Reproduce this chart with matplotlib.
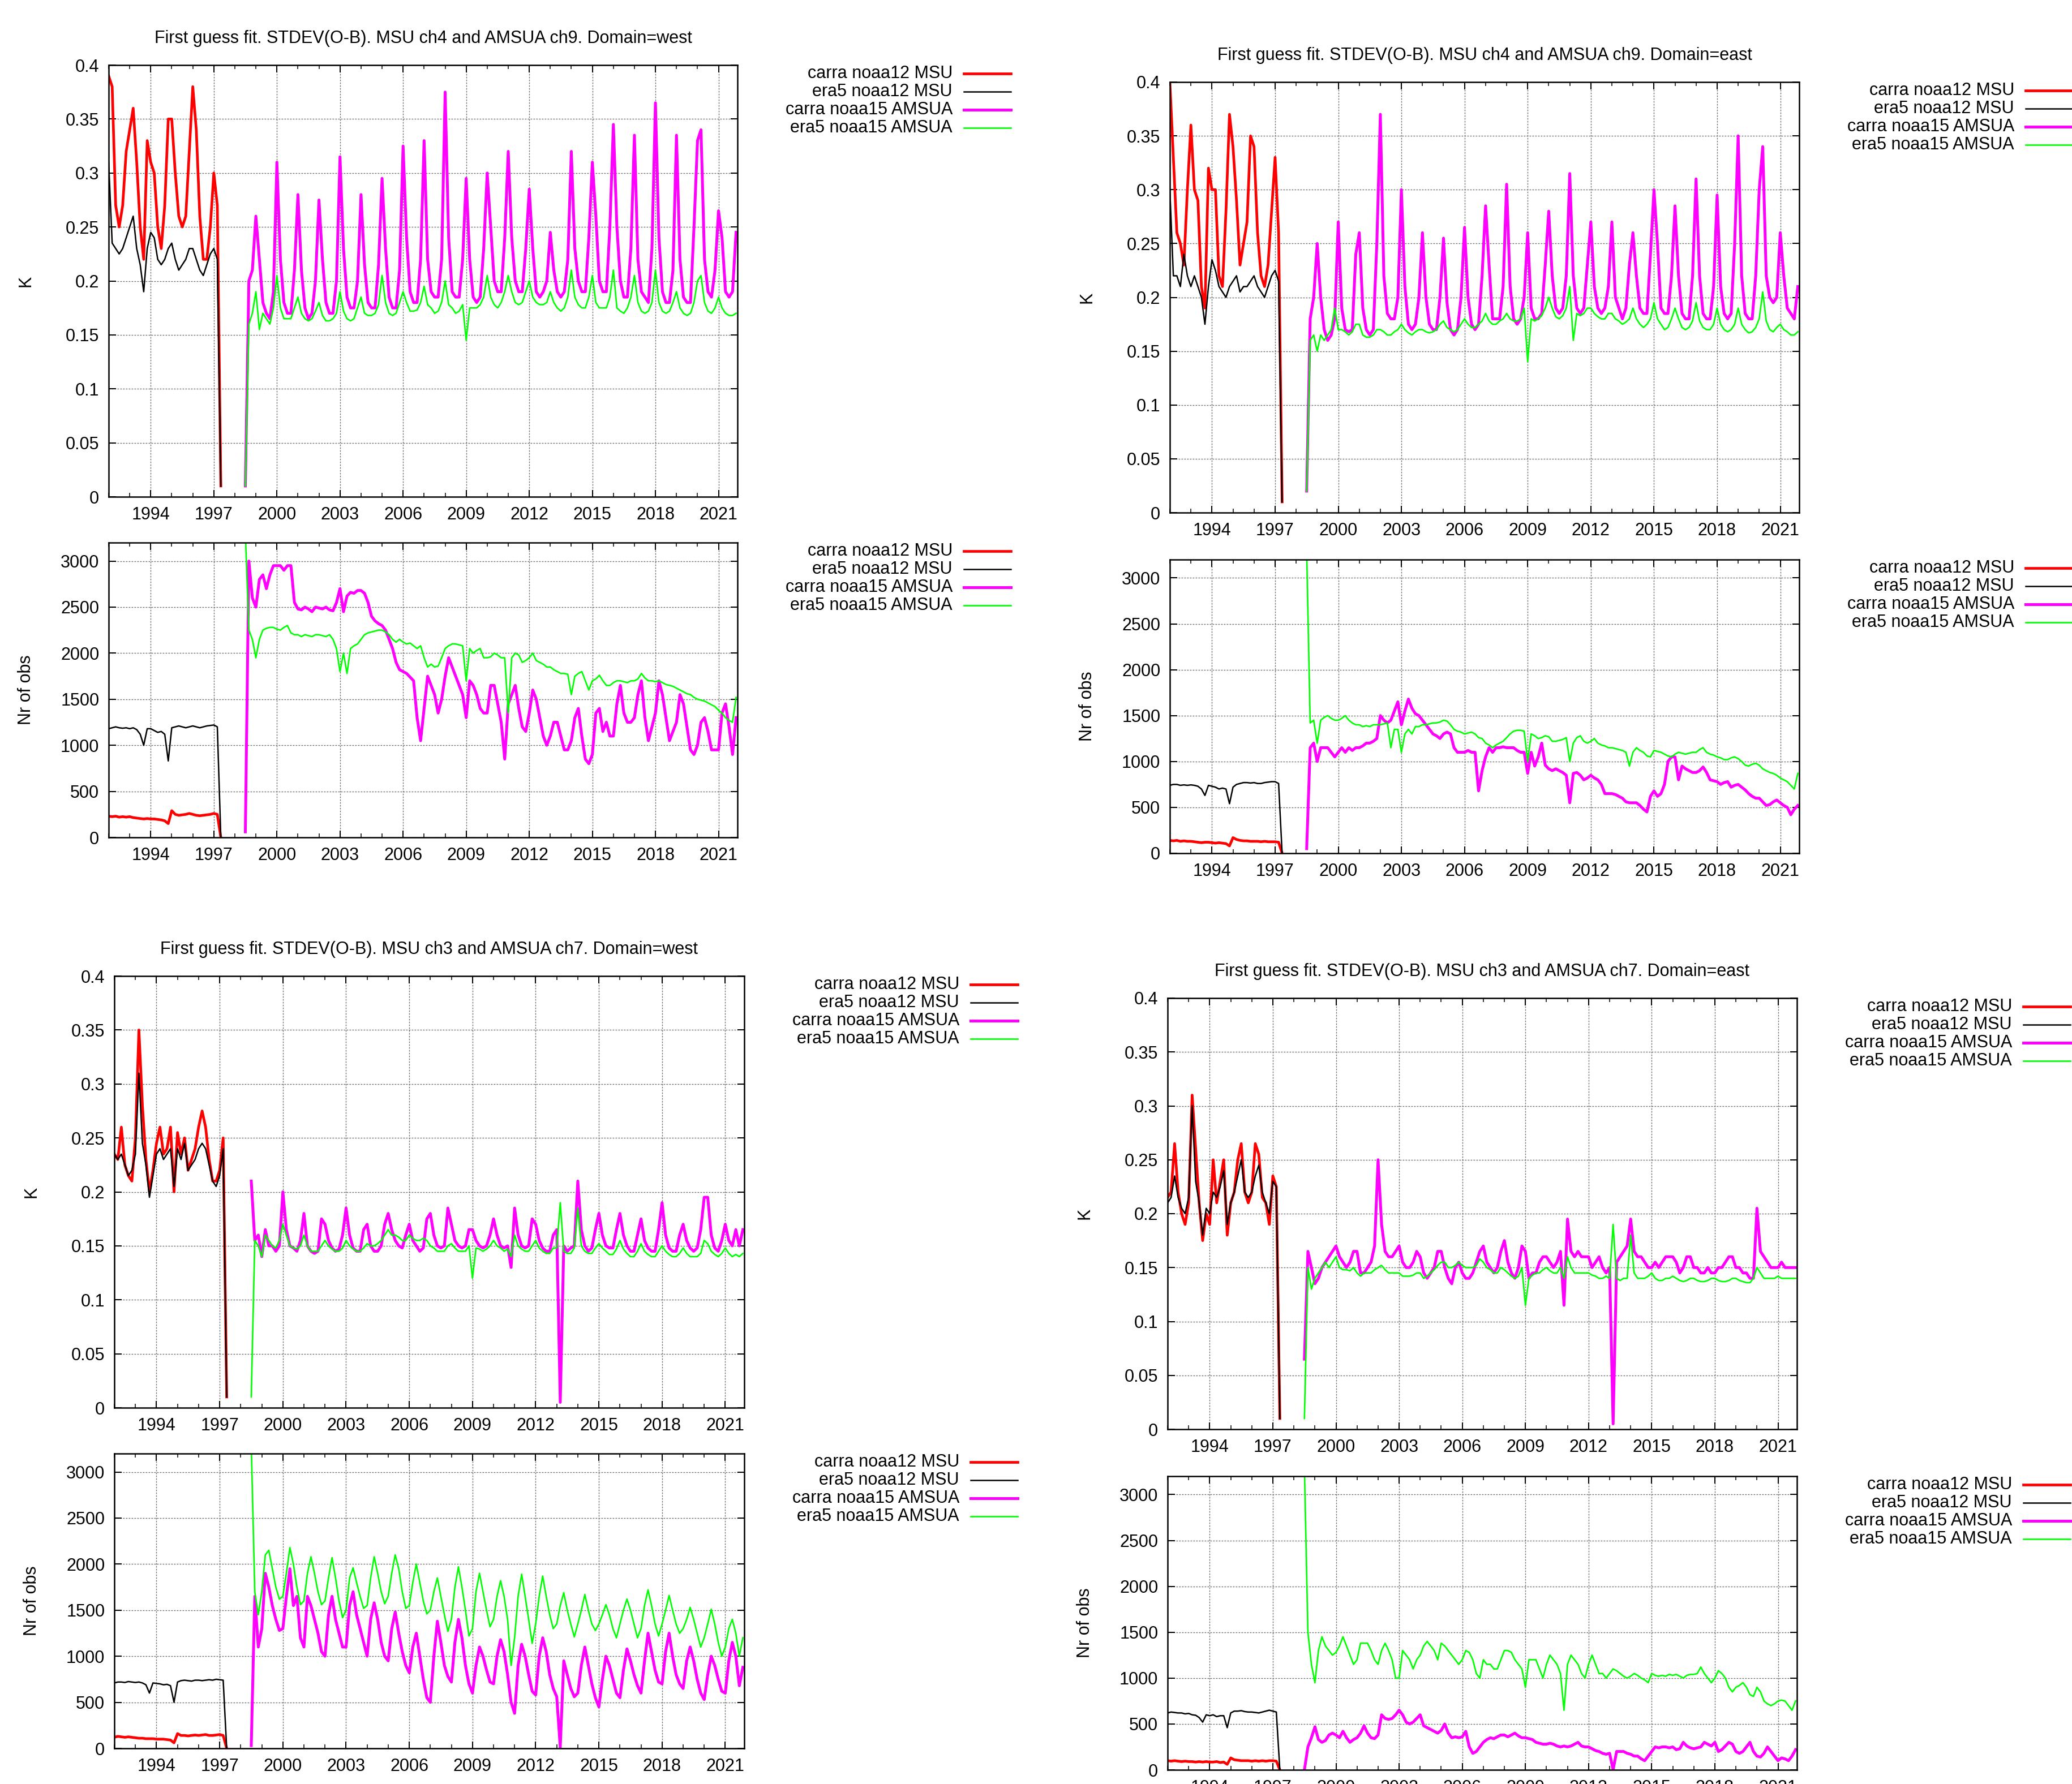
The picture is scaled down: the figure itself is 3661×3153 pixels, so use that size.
import numpy as np
import matplotlib
matplotlib.use("Agg")
import matplotlib.pyplot as plt
from matplotlib.lines import Line2D
from matplotlib.ticker import MultipleLocator, FixedLocator, FixedFormatter

plt.rcParams['font.family'] = ['Liberation Sans', 'DejaVu Sans']

W, H = 3662, 3153

# two-monthly samples, decimal years
msu_start = 1992.0
amsua_start = 1998.5
step = 1.0 / 6.0

labels = ['carra noaa12 MSU', 'era5 noaa12 MSU', 'carra noaa15 AMSUA', 'era5 noaa15 AMSUA']
colors = ['#ff0000', '#000000', '#ff00ff', '#00ff00']
widths = [3.4, 1.8, 3.6, 1.9]

titles = [
    'First guess fit. STDEV(O-B). MSU ch4 and AMSUA ch9. Domain=west',
    'First guess fit. STDEV(O-B). MSU ch4 and AMSUA ch9. Domain=east',
    'First guess fit. STDEV(O-B). MSU ch3 and AMSUA ch7. Domain=west',
    'First guess fit. STDEV(O-B). MSU ch3 and AMSUA ch7. Domain=east',
]

sd_ticks = [0, 0.05, 0.1, 0.15, 0.2, 0.25, 0.3, 0.35, 0.4]
sd_ticklabels = ['0', '0.05', '0.1', '0.15', '0.2', '0.25', '0.3', '0.35', '0.4']
nr_ticks = [0, 500, 1000, 1500, 2000, 2500, 3000]
year_ticks = [1994, 1997, 2000, 2003, 2006, 2009, 2012, 2015, 2018, 2021]

# ---------------- MSU ch4 / AMSUA ch9, west ----------------
w9_sd_carra12 = [
    0.39, 0.38, 0.27, 0.25, 0.27, 0.32,
    0.34, 0.36, 0.31, 0.25, 0.22, 0.33,
    0.31, 0.30, 0.25, 0.23, 0.27, 0.35,
    0.35, 0.30, 0.26, 0.25, 0.26, 0.32,
    0.38, 0.34, 0.26, 0.22, 0.22, 0.25,
    0.30, 0.27, 0.01]
w9_sd_era12 = [
    0.31, 0.235, 0.23, 0.225, 0.23, 0.24,
    0.25, 0.26, 0.23, 0.215, 0.19, 0.23,
    0.245, 0.24, 0.22, 0.215, 0.22, 0.23,
    0.235, 0.22, 0.21, 0.215, 0.22, 0.23,
    0.23, 0.22, 0.21, 0.205, 0.215, 0.225,
    0.23, 0.22, 0.01]
w9_sd_carra15 = [
    0.01, 0.20, 0.21,
    0.26, 0.22, 0.18, 0.17, 0.165, 0.19,
    0.31, 0.22, 0.18, 0.17, 0.17, 0.21,
    0.28, 0.21, 0.175, 0.165, 0.17, 0.20,
    0.275, 0.22, 0.18, 0.17, 0.17, 0.20,
    0.315, 0.23, 0.185, 0.175, 0.175, 0.20,
    0.28, 0.215, 0.18, 0.175, 0.175, 0.215,
    0.295, 0.23, 0.185, 0.175, 0.175, 0.21,
    0.325, 0.24, 0.19, 0.18, 0.18, 0.22,
    0.33, 0.22, 0.19, 0.185, 0.185, 0.22,
    0.375, 0.24, 0.19, 0.185, 0.185, 0.22,
    0.295, 0.22, 0.185, 0.18, 0.185, 0.23,
    0.30, 0.25, 0.20, 0.19, 0.19, 0.24,
    0.32, 0.24, 0.20, 0.19, 0.19, 0.23,
    0.285, 0.23, 0.19, 0.185, 0.19, 0.20,
    0.245, 0.21, 0.19, 0.185, 0.19, 0.22,
    0.32, 0.23, 0.20, 0.19, 0.19, 0.24,
    0.31, 0.26, 0.20, 0.19, 0.19, 0.25,
    0.345, 0.25, 0.20, 0.185, 0.185, 0.23,
    0.335, 0.22, 0.19, 0.185, 0.18, 0.23,
    0.365, 0.24, 0.19, 0.18, 0.18, 0.21,
    0.335, 0.22, 0.185, 0.18, 0.18, 0.25,
    0.33, 0.34, 0.22, 0.19, 0.185, 0.21,
    0.265, 0.24, 0.19, 0.185, 0.19, 0.245]
w9_sd_era15 = [
    0.01, 0.16, 0.17,
    0.19, 0.155, 0.17, 0.165, 0.16, 0.175,
    0.205, 0.175, 0.165, 0.165, 0.165, 0.175,
    0.185, 0.17, 0.165, 0.163, 0.165, 0.172,
    0.18, 0.168, 0.163, 0.163, 0.165, 0.17,
    0.19, 0.172, 0.165, 0.163, 0.165, 0.175,
    0.185, 0.17, 0.168, 0.168, 0.17, 0.178,
    0.205, 0.18, 0.17, 0.168, 0.17, 0.18,
    0.19, 0.18, 0.172, 0.172, 0.173, 0.18,
    0.195, 0.178, 0.175, 0.17, 0.172, 0.18,
    0.20, 0.178, 0.175, 0.17, 0.172, 0.178,
    0.145, 0.175, 0.175, 0.175, 0.178, 0.185,
    0.205, 0.185, 0.178, 0.175, 0.18, 0.19,
    0.205, 0.19, 0.18, 0.178, 0.18, 0.19,
    0.20, 0.185, 0.18, 0.178, 0.178, 0.18,
    0.19, 0.18, 0.175, 0.172, 0.175, 0.185,
    0.21, 0.185, 0.178, 0.175, 0.175, 0.185,
    0.205, 0.18, 0.175, 0.175, 0.175, 0.185,
    0.21, 0.175, 0.172, 0.17, 0.175, 0.185,
    0.205, 0.18, 0.172, 0.17, 0.172, 0.18,
    0.21, 0.18, 0.172, 0.17, 0.172, 0.18,
    0.19, 0.175, 0.17, 0.168, 0.17, 0.18,
    0.20, 0.205, 0.18, 0.172, 0.17, 0.175,
    0.185, 0.175, 0.17, 0.168, 0.168, 0.17]

w9_nr_carra12 = [
    230, 225, 230, 220, 225, 220,
    225, 215, 210, 205, 200, 205,
    200, 200, 195, 190, 180, 150,
    290, 250, 240, 245, 250, 260,
    250, 240, 235, 240, 245, 250,
    260, 250, 0]
w9_nr_era12 = [
    1180, 1190, 1200, 1190, 1185, 1190,
    1180, 1190, 1170, 1120, 1000, 1180,
    1180, 1160, 1140, 1150, 1120, 830,
    1190, 1200, 1210, 1200, 1190, 1200,
    1210, 1200, 1190, 1200, 1210, 1215,
    1220, 1200, 0]
w9_nr_carra15 = [
    60, 3000, 2600,
    2500, 2800, 2850, 2700, 2850, 2950,
    2950, 2950, 2900, 2950, 2950, 2550,
    2480, 2470, 2500, 2480, 2450, 2500,
    2490, 2480, 2500, 2470, 2460, 2550,
    2700, 2450, 2620, 2660, 2650, 2680,
    2680, 2650, 2550, 2400, 2350, 2320,
    2300, 2250, 2150, 2050, 1900, 1820,
    1800, 1780, 1740, 1700, 1300, 1050,
    1400, 1750, 1650, 1550, 1350, 1500,
    1750, 1950, 1850, 1750, 1650, 1550,
    1300, 1700, 1650, 1550, 1400, 1350,
    1350, 1650, 1650, 1450, 1250, 850,
    1450, 1550, 1650, 1400, 1200, 1150,
    1350, 1600, 1500, 1300, 1100, 1000,
    1100, 1250, 1250, 1100, 950, 950,
    1050, 1300, 1400, 1100, 850, 800,
    900, 1350, 1400, 1150, 1250, 1100,
    1100, 1450, 1650, 1350, 1250, 1250,
    1300, 1550, 1700, 1300, 1050, 1200,
    1350, 1700, 1550, 1300, 1050, 1150,
    1250, 1550, 1450, 1200, 950, 900,
    1000, 1250, 1300, 1150, 950, 950,
    950, 1350, 1450, 1200, 900, 1300]
w9_nr_era15 = [
    3300, 2250, 2150,
    1950, 2150, 2250, 2270, 2280, 2280,
    2260, 2250, 2280, 2300, 2220, 2200,
    2200, 2180, 2200, 2190, 2180, 2200,
    2200, 2190, 2180, 2200, 2150, 2050,
    1800, 2000, 1780, 2050, 2080, 2100,
    2150, 2200, 2220, 2230, 2240, 2250,
    2250, 2230, 2200, 2150, 2120, 2150,
    2120, 2100, 2110, 2080, 2050, 2080,
    1950, 1850, 1880, 1850, 1860, 1950,
    2050, 2080, 2100, 2100, 2090, 2080,
    1700, 2050, 2000, 2030, 2050, 1950,
    1950, 1960, 2000, 1980, 1950, 1950,
    1350, 1950, 2000, 1980, 1900, 1920,
    1950, 2000, 1920, 1900, 1880, 1850,
    1850, 1820, 1800, 1780, 1780, 1770,
    1550, 1750, 1780, 1800, 1700, 1600,
    1700, 1720, 1760, 1700, 1650, 1650,
    1680, 1700, 1700, 1690, 1680, 1700,
    1700, 1720, 1780, 1730, 1700, 1700,
    1690, 1700, 1680, 1660, 1650, 1640,
    1620, 1600, 1580, 1560, 1550, 1520,
    1500, 1490, 1480, 1460, 1440, 1420,
    1380, 1350, 1300, 1270, 1250, 1520]

# ---------------- MSU ch4 / AMSUA ch9, east ----------------
e9_sd_carra12 = [
    0.40, 0.33, 0.26, 0.25, 0.23, 0.30,
    0.36, 0.30, 0.29, 0.21, 0.19, 0.32,
    0.30, 0.30, 0.22, 0.21, 0.28, 0.37,
    0.34, 0.29, 0.23, 0.25, 0.27, 0.35,
    0.34, 0.26, 0.22, 0.21, 0.23, 0.28,
    0.33, 0.26, 0.01]
e9_sd_era12 = [
    0.30, 0.22, 0.22, 0.21, 0.24, 0.22,
    0.21, 0.22, 0.21, 0.20, 0.175, 0.21,
    0.235, 0.225, 0.21, 0.205, 0.20, 0.21,
    0.215, 0.22, 0.205, 0.21, 0.21, 0.215,
    0.22, 0.21, 0.205, 0.20, 0.21, 0.22,
    0.225, 0.215, 0.01]
e9_sd_carra15 = [
    0.02, 0.18, 0.20,
    0.25, 0.20, 0.17, 0.16, 0.165, 0.18,
    0.27, 0.19, 0.17, 0.168, 0.17, 0.24,
    0.26, 0.19, 0.17, 0.165, 0.17, 0.25,
    0.37, 0.22, 0.185, 0.18, 0.18, 0.20,
    0.30, 0.21, 0.175, 0.17, 0.175, 0.20,
    0.26, 0.20, 0.175, 0.17, 0.17, 0.20,
    0.255, 0.195, 0.17, 0.165, 0.17, 0.20,
    0.265, 0.20, 0.175, 0.17, 0.175, 0.22,
    0.285, 0.23, 0.18, 0.18, 0.18, 0.21,
    0.305, 0.21, 0.18, 0.175, 0.18, 0.20,
    0.26, 0.19, 0.18, 0.18, 0.185, 0.23,
    0.28, 0.22, 0.19, 0.185, 0.19, 0.22,
    0.315, 0.22, 0.19, 0.185, 0.19, 0.23,
    0.27, 0.21, 0.19, 0.185, 0.19, 0.21,
    0.27, 0.20, 0.19, 0.18, 0.19, 0.23,
    0.26, 0.22, 0.19, 0.185, 0.185, 0.24,
    0.30, 0.25, 0.19, 0.185, 0.185, 0.22,
    0.285, 0.22, 0.185, 0.18, 0.18, 0.22,
    0.31, 0.22, 0.185, 0.18, 0.18, 0.21,
    0.295, 0.21, 0.185, 0.18, 0.185, 0.25,
    0.35, 0.22, 0.185, 0.18, 0.18, 0.22,
    0.30, 0.34, 0.22, 0.20, 0.195, 0.20,
    0.26, 0.22, 0.19, 0.185, 0.18, 0.21]
e9_sd_era15 = [
    0.02, 0.16, 0.165,
    0.15, 0.165, 0.16, 0.165, 0.17, 0.19,
    0.17, 0.17, 0.168, 0.165, 0.168, 0.175,
    0.175, 0.165, 0.163, 0.163, 0.165, 0.17,
    0.17, 0.168, 0.165, 0.165, 0.168, 0.17,
    0.175, 0.17, 0.167, 0.165, 0.168, 0.17,
    0.17, 0.168, 0.167, 0.168, 0.17, 0.175,
    0.178, 0.172, 0.17, 0.168, 0.17, 0.175,
    0.18, 0.175, 0.172, 0.172, 0.175, 0.178,
    0.185, 0.178, 0.175, 0.175, 0.178, 0.18,
    0.185, 0.18, 0.178, 0.178, 0.18, 0.19,
    0.14, 0.18, 0.178, 0.18, 0.183, 0.19,
    0.20, 0.19, 0.182, 0.18, 0.183, 0.19,
    0.21, 0.16, 0.185, 0.183, 0.185, 0.19,
    0.19, 0.185, 0.182, 0.18, 0.18, 0.185,
    0.185, 0.18, 0.178, 0.175, 0.177, 0.18,
    0.19, 0.18, 0.175, 0.172, 0.175, 0.18,
    0.195, 0.18, 0.175, 0.17, 0.172, 0.18,
    0.19, 0.18, 0.172, 0.17, 0.172, 0.178,
    0.195, 0.178, 0.172, 0.17, 0.17, 0.175,
    0.19, 0.175, 0.17, 0.168, 0.17, 0.175,
    0.19, 0.175, 0.17, 0.167, 0.168, 0.172,
    0.18, 0.205, 0.178, 0.17, 0.168, 0.172,
    0.175, 0.17, 0.168, 0.165, 0.165, 0.168]

e9_nr_carra12 = [
    140, 135, 140, 130, 135, 130,
    130, 125, 120, 115, 120, 120,
    115, 110, 115, 110, 105, 80,
    170, 150, 140, 135, 135, 130,
    130, 130, 125, 130, 125, 125,
    125, 120, 0]
e9_nr_era12 = [
    740, 750, 750, 740, 745, 740,
    745, 740, 730, 700, 630, 740,
    730, 720, 700, 710, 700, 540,
    720, 750, 760, 770, 770, 765,
    770, 760, 760, 770, 775, 780,
    780, 760, 0]
e9_nr_carra15 = [
    50, 1150, 1200,
    1000, 1150, 1150, 1150, 1100, 1050,
    1100, 1150, 1100, 1150, 1120, 1150,
    1150, 1170, 1200, 1200, 1220, 1250,
    1500, 1450, 1420, 1450, 1550, 1650,
    1400, 1550, 1680, 1580, 1520, 1500,
    1450, 1400, 1350, 1300, 1280, 1250,
    1300, 1320, 1300, 1150, 1100, 1100,
    1100, 1120, 1100, 1100, 680, 900,
    1050, 1150, 1100, 1150, 1150, 1160,
    1150, 1150, 1150, 1120, 1100, 1100,
    870, 1100, 950, 1050, 1200, 960,
    920, 900, 920, 900, 880, 850,
    550, 870, 880, 850, 800, 820,
    850, 820, 800, 750, 650, 650,
    650, 640, 620, 600, 560, 550,
    550, 550, 520, 480, 450, 620,
    680, 620, 650, 750, 1000, 1050,
    1050, 800, 950, 920, 900, 880,
    880, 900, 940, 880, 800, 790,
    780, 750, 770, 780, 720, 740,
    750, 720, 690, 650, 620, 600,
    600, 560, 520, 530, 560, 580,
    550, 520, 500, 420, 480, 520]
e9_nr_era15 = [
    3300, 1420, 1450,
    1200, 1450, 1480, 1500, 1470, 1450,
    1450, 1470, 1500, 1450, 1420, 1400,
    1400, 1380, 1390, 1380, 1400, 1400,
    1400, 1410, 1420, 1150, 1350, 1350,
    1100, 1300, 1350, 1300, 1380, 1380,
    1400, 1400, 1410, 1420, 1420, 1430,
    1450, 1440, 1400, 1350, 1330, 1320,
    1300, 1310, 1320, 1300, 1260, 1250,
    1200, 1180, 1150, 1180, 1200, 1220,
    1260, 1300, 1330, 1340, 1340, 1330,
    1000, 1300, 1280, 1250, 1260, 1280,
    1270, 1220, 1220, 1230, 1240, 1260,
    1000, 1200, 1260, 1280, 1220, 1200,
    1220, 1250, 1200, 1180, 1170, 1150,
    1150, 1140, 1130, 1120, 1100, 950,
    1100, 1150, 1120, 1100, 1060, 1050,
    1120, 1110, 1100, 1080, 1060, 1050,
    1080, 1100, 1090, 1080, 1090, 1100,
    1100, 1130, 1150, 1100, 1080, 1070,
    1050, 1040, 1020, 1020, 1040, 1050,
    1030, 1000, 960, 950, 970, 980,
    960, 920, 900, 880, 870, 850,
    820, 800, 780, 740, 700, 870]

# ---------------- MSU ch3 / AMSUA ch7, west ----------------
w7_sd_carra12 = [
    0.235, 0.23, 0.26, 0.225, 0.215, 0.21,
    0.25, 0.35, 0.28, 0.23, 0.20, 0.22,
    0.245, 0.26, 0.235, 0.24, 0.26, 0.20,
    0.255, 0.235, 0.25, 0.22, 0.23, 0.24,
    0.26, 0.275, 0.26, 0.23, 0.21, 0.21,
    0.22, 0.25, 0.01]
w7_sd_era12 = [
    0.235, 0.23, 0.235, 0.225, 0.215, 0.22,
    0.235, 0.31, 0.245, 0.225, 0.195, 0.215,
    0.235, 0.24, 0.23, 0.235, 0.24, 0.205,
    0.24, 0.23, 0.245, 0.22, 0.225, 0.23,
    0.24, 0.245, 0.24, 0.225, 0.21, 0.205,
    0.215, 0.24, 0.01]
w7_sd_carra15 = [
    0.21, 0.155, 0.16,
    0.14, 0.165, 0.15, 0.15, 0.145, 0.15,
    0.20, 0.165, 0.15, 0.148, 0.145, 0.155,
    0.18, 0.15, 0.145, 0.143, 0.145, 0.175,
    0.17, 0.155, 0.148, 0.145, 0.147, 0.16,
    0.185, 0.16, 0.148, 0.145, 0.145, 0.165,
    0.17, 0.15, 0.145, 0.145, 0.15, 0.17,
    0.18, 0.165, 0.155, 0.15, 0.148, 0.16,
    0.17, 0.155, 0.15, 0.145, 0.148, 0.175,
    0.18, 0.16, 0.15, 0.148, 0.15, 0.185,
    0.17, 0.155, 0.15, 0.148, 0.15, 0.165,
    0.165, 0.155, 0.15, 0.148, 0.15, 0.16,
    0.175, 0.16, 0.15, 0.148, 0.15, 0.13,
    0.185, 0.16, 0.15, 0.148, 0.15, 0.175,
    0.17, 0.155, 0.148, 0.145, 0.145, 0.16,
    0.165, 0.005, 0.15, 0.145, 0.148, 0.15,
    0.21, 0.165, 0.15, 0.145, 0.148, 0.165,
    0.18, 0.16, 0.15, 0.148, 0.148, 0.165,
    0.18, 0.16, 0.15, 0.145, 0.145, 0.16,
    0.175, 0.155, 0.148, 0.145, 0.145, 0.165,
    0.19, 0.16, 0.148, 0.145, 0.145, 0.16,
    0.17, 0.155, 0.148, 0.145, 0.148, 0.165,
    0.195, 0.195, 0.16, 0.148, 0.145, 0.155,
    0.17, 0.155, 0.15, 0.165, 0.15, 0.165]
w7_sd_era15 = [
    0.01, 0.155, 0.15,
    0.14, 0.16, 0.155, 0.15, 0.148, 0.155,
    0.17, 0.16, 0.15, 0.148, 0.147, 0.15,
    0.16, 0.15, 0.145, 0.145, 0.145, 0.15,
    0.155, 0.15, 0.147, 0.145, 0.145, 0.148,
    0.155, 0.15, 0.147, 0.145, 0.145, 0.148,
    0.152, 0.15, 0.15, 0.152, 0.155, 0.16,
    0.165, 0.16, 0.16, 0.158, 0.155, 0.155,
    0.16, 0.157, 0.155, 0.155, 0.157, 0.155,
    0.15, 0.148, 0.145, 0.145, 0.145, 0.15,
    0.152, 0.148, 0.145, 0.145, 0.145, 0.15,
    0.12, 0.148, 0.147, 0.145, 0.147, 0.15,
    0.155, 0.15, 0.148, 0.145, 0.147, 0.14,
    0.16, 0.15, 0.147, 0.145, 0.145, 0.15,
    0.155, 0.148, 0.145, 0.143, 0.143, 0.148,
    0.148, 0.19, 0.145, 0.143, 0.143, 0.148,
    0.185, 0.15, 0.145, 0.143, 0.143, 0.148,
    0.152, 0.148, 0.145, 0.142, 0.142, 0.147,
    0.155, 0.147, 0.143, 0.14, 0.14, 0.145,
    0.152, 0.145, 0.142, 0.14, 0.14, 0.145,
    0.15, 0.145, 0.142, 0.14, 0.14, 0.143,
    0.148, 0.143, 0.14, 0.14, 0.14, 0.143,
    0.155, 0.152, 0.145, 0.142, 0.14, 0.143,
    0.148, 0.143, 0.14, 0.142, 0.14, 0.143]

w7_nr_carra12 = [
    120, 130, 125, 120, 125, 120,
    115, 110, 110, 105, 105, 105,
    100, 100, 100, 95, 90, 60,
    160, 140, 140, 135, 140, 145,
    140, 145, 150, 140, 140, 145,
    150, 140, 0]
w7_nr_era12 = [
    710, 720, 720, 715, 725, 720,
    715, 720, 710, 690, 600, 710,
    705, 700, 690, 695, 680, 500,
    720, 735, 740, 735, 730, 740,
    740, 735, 740, 745, 740, 750,
    745, 740, 0]
w7_nr_carra15 = [
    30, 1650, 1100,
    1300, 1900, 1750, 1550, 1400, 1280,
    1300, 1650, 1950, 1550, 1650, 1200,
    1100, 1650, 1550, 1400, 1250, 1050,
    1000, 1450, 1650, 1400, 1250, 1100,
    1100, 1550, 1700, 1450, 1300, 1150,
    1000, 1400, 1580, 1400, 1150, 1000,
    950, 1300, 1480, 1250, 1050, 900,
    820, 1100, 1250, 1000, 750, 550,
    500, 1000, 1380, 1150, 900, 780,
    720, 1150, 1400, 1200, 900, 700,
    600, 900, 1100, 1000, 850, 720,
    700, 1000, 1180, 1050, 800, 500,
    380, 900, 1130, 1000, 800, 620,
    580, 1000, 1200, 1050, 800, 650,
    560, 10, 950, 800, 650, 560,
    600, 900, 1100, 900, 700, 550,
    450, 750, 1000, 900, 750, 600,
    550, 850, 1080, 950, 800, 680,
    600, 950, 1250, 1050, 850, 720,
    700, 1050, 1250, 1000, 800, 700,
    650, 950, 1100, 950, 750, 600,
    530, 800, 1000, 900, 750, 620,
    600, 950, 1150, 1000, 680, 880]
w7_nr_era15 = [
    3300, 1700, 1450,
    1700, 2100, 2150, 1950, 1750, 1620,
    1650, 1900, 2180, 2000, 1750, 1560,
    1600, 1900, 2080, 1900, 1700, 1560,
    1600, 1850, 2070, 1850, 1600, 1420,
    1500, 1850, 1960, 1800, 1650, 1520,
    1550, 1850, 2080, 1900, 1700, 1570,
    1650, 1900, 2100, 1950, 1700, 1520,
    1550, 1800, 2000, 1800, 1600, 1460,
    1500, 1700, 1850, 1650, 1450, 1270,
    1400, 1750, 1970, 1750, 1500, 1220,
    1300, 1700, 1900, 1700, 1500, 1320,
    1400, 1650, 1820, 1650, 1400, 900,
    1200, 1650, 1890, 1650, 1400, 1140,
    1350, 1650, 1870, 1650, 1450, 1300,
    1350, 1550, 1690, 1500, 1350, 1210,
    1350, 1500, 1670, 1500, 1350, 1280,
    1350, 1450, 1560, 1450, 1300, 1200,
    1350, 1500, 1620, 1500, 1350, 1200,
    1300, 1550, 1720, 1550, 1350, 1220,
    1350, 1500, 1660, 1500, 1350, 1250,
    1300, 1400, 1530, 1400, 1250, 1100,
    1200, 1350, 1510, 1350, 1150, 1000,
    1100, 1300, 1400, 1250, 1000, 1200]

# ---------------- MSU ch3 / AMSUA ch7, east ----------------
e7_sd_carra12 = [
    0.215, 0.22, 0.265, 0.22, 0.20, 0.19,
    0.21, 0.31, 0.26, 0.21, 0.175, 0.20,
    0.19, 0.25, 0.21, 0.23, 0.25, 0.18,
    0.21, 0.22, 0.25, 0.265, 0.22, 0.21,
    0.22, 0.265, 0.255, 0.215, 0.21, 0.19,
    0.235, 0.225, 0.01]
e7_sd_era12 = [
    0.21, 0.215, 0.235, 0.215, 0.205, 0.20,
    0.215, 0.30, 0.23, 0.21, 0.18, 0.205,
    0.20, 0.22, 0.215, 0.225, 0.24, 0.19,
    0.21, 0.22, 0.235, 0.25, 0.22, 0.215,
    0.22, 0.235, 0.245, 0.22, 0.21, 0.20,
    0.23, 0.225, 0.01]
e7_sd_carra15 = [
    0.065, 0.165, 0.15,
    0.135, 0.14, 0.15, 0.155, 0.16, 0.165,
    0.17, 0.16, 0.155, 0.15, 0.155, 0.165,
    0.165, 0.145, 0.145, 0.15, 0.155, 0.17,
    0.25, 0.19, 0.165, 0.16, 0.16, 0.165,
    0.17, 0.155, 0.15, 0.15, 0.155, 0.165,
    0.16, 0.145, 0.14, 0.145, 0.15, 0.165,
    0.165, 0.15, 0.14, 0.135, 0.15, 0.155,
    0.145, 0.14, 0.14, 0.145, 0.155, 0.165,
    0.17, 0.155, 0.15, 0.145, 0.15, 0.165,
    0.175, 0.155, 0.145, 0.14, 0.15, 0.17,
    0.165, 0.14, 0.145, 0.145, 0.155, 0.16,
    0.16, 0.155, 0.15, 0.155, 0.165, 0.115,
    0.195, 0.165, 0.16, 0.165, 0.16, 0.16,
    0.16, 0.15, 0.155, 0.16, 0.15, 0.145,
    0.15, 0.005, 0.155, 0.16, 0.165, 0.17,
    0.195, 0.165, 0.16, 0.16, 0.155, 0.15,
    0.15, 0.155, 0.15, 0.155, 0.16, 0.16,
    0.16, 0.155, 0.145, 0.15, 0.16, 0.16,
    0.15, 0.15, 0.145, 0.145, 0.15, 0.145,
    0.145, 0.15, 0.15, 0.155, 0.16, 0.16,
    0.15, 0.15, 0.145, 0.145, 0.14, 0.14,
    0.205, 0.165, 0.16, 0.155, 0.15, 0.15,
    0.15, 0.155, 0.15, 0.15, 0.15, 0.15]
e7_sd_era15 = [
    0.01, 0.15, 0.13,
    0.14, 0.145, 0.15, 0.155, 0.15, 0.155,
    0.16, 0.15, 0.148, 0.148, 0.147, 0.15,
    0.145, 0.142, 0.145, 0.145, 0.145, 0.148,
    0.15, 0.152, 0.148, 0.145, 0.145, 0.145,
    0.145, 0.142, 0.142, 0.142, 0.143, 0.145,
    0.145, 0.14, 0.142, 0.145, 0.148, 0.152,
    0.155, 0.155, 0.15, 0.15, 0.152, 0.155,
    0.152, 0.15, 0.15, 0.15, 0.152, 0.158,
    0.155, 0.15, 0.148, 0.145, 0.145, 0.15,
    0.148, 0.145, 0.142, 0.14, 0.142, 0.15,
    0.115, 0.14, 0.143, 0.145, 0.145, 0.148,
    0.15, 0.147, 0.145, 0.145, 0.15, 0.14,
    0.16, 0.15, 0.145, 0.145, 0.145, 0.145,
    0.145, 0.143, 0.142, 0.14, 0.14, 0.142,
    0.14, 0.19, 0.14, 0.138, 0.14, 0.14,
    0.18, 0.145, 0.14, 0.14, 0.14, 0.142,
    0.145, 0.14, 0.138, 0.138, 0.14, 0.14,
    0.142, 0.14, 0.138, 0.137, 0.138, 0.14,
    0.14, 0.138, 0.137, 0.137, 0.138, 0.14,
    0.14, 0.138, 0.137, 0.137, 0.138, 0.14,
    0.14, 0.138, 0.137, 0.136, 0.136, 0.14,
    0.15, 0.145, 0.14, 0.14, 0.14, 0.14,
    0.142, 0.14, 0.14, 0.14, 0.14, 0.14]

e7_nr_carra12 = [
    100, 95, 100, 95, 90, 95,
    90, 90, 85, 90, 85, 90,
    85, 85, 90, 80, 85, 60,
    130, 110, 105, 100, 100, 100,
    95, 100, 95, 100, 95, 100,
    100, 95, 0]
e7_nr_era12 = [
    620, 630, 625, 620, 620, 610,
    615, 600, 595, 570, 520, 600,
    590, 600, 580, 590, 590, 460,
    620, 640, 640, 645, 635, 630,
    630, 625, 620, 630, 640, 650,
    640, 630, 0]
e7_nr_carra15 = [
    0, 250, 350,
    470, 330, 300, 320, 380, 400,
    380, 350, 420, 350, 300, 330,
    350, 400, 480, 400, 350, 340,
    380, 600, 560, 550, 560, 600,
    650, 600, 520, 500, 520, 560,
    600, 480, 460, 440, 420, 400,
    430, 500, 400, 350, 360, 350,
    360, 420, 250, 180, 200, 250,
    300, 330, 350, 340, 360, 380,
    380, 360, 380, 400, 370, 350,
    350, 340, 330, 300, 290, 280,
    280, 290, 280, 260, 250, 260,
    250, 260, 280, 300, 260, 250,
    250, 230, 210, 200, 180, 170,
    180, 0, 200, 200, 200, 180,
    170, 150, 150, 120, 100, 150,
    200, 250, 240, 250, 250, 240,
    250, 220, 230, 300, 260, 240,
    230, 240, 250, 300, 280, 260,
    300, 200, 220, 260, 300, 280,
    200, 180, 200, 250, 300, 200,
    150, 140, 180, 250, 200, 150,
    100, 130, 120, 100, 150, 220]
e7_nr_era15 = [
    3300, 1500, 1150,
    950, 1300, 1450, 1350, 1300, 1250,
    1280, 1350, 1450, 1350, 1250, 1150,
    1200, 1380, 1380, 1380, 1300, 1200,
    1150, 1300, 1380, 1300, 1200, 1000,
    1000, 1300, 1250, 1200, 1100, 1200,
    1250, 1350, 1400, 1350, 1300, 1200,
    1380, 1350, 1300, 1250, 1200, 1150,
    1200, 1300, 1280, 1200, 1050, 1000,
    1200, 1150, 1150, 1100, 1100, 1200,
    1300, 1300, 1280, 1200, 1150, 1100,
    900, 1200, 1200, 1200, 1100, 1000,
    1150, 1250, 1200, 1150, 1050, 650,
    1150, 1250, 1200, 1150, 1050, 1000,
    1150, 1250, 1150, 1050, 1050, 1000,
    1050, 1100, 1080, 1050, 1020, 1000,
    1020, 1050, 1030, 1000, 980, 950,
    1050, 1030, 1020, 1030, 1020, 1040,
    1030, 1040, 1020, 1000, 1030, 1040,
    1040, 1050, 1120, 1050, 1000, 950,
    1000, 1080, 1050, 1000, 900, 850,
    900, 920, 950, 900, 820, 800,
    900, 850, 750, 720, 700, 720,
    750, 760, 750, 700, 650, 750]

# panel boxes in pixels: left, top, right, bottom
panels = [
    (titles[0], (192, 115, 1303, 878), (w9_sd_carra12, w9_sd_era12, w9_sd_carra15, w9_sd_era15),
     (192, 959, 1303, 1480), (w9_nr_carra12, w9_nr_era12, w9_nr_carra15, w9_nr_era15)),
    (titles[1], (2067, 145, 3179, 906), (e9_sd_carra12, e9_sd_era12, e9_sd_carra15, e9_sd_era15),
     (2067, 989, 3179, 1508), (e9_nr_carra12, e9_nr_era12, e9_nr_carra15, e9_nr_era15)),
    (titles[2], (202, 1725, 1315, 2488), (w7_sd_carra12, w7_sd_era12, w7_sd_carra15, w7_sd_era15),
     (202, 2569, 1315, 3090), (w7_nr_carra12, w7_nr_era12, w7_nr_carra15, w7_nr_era15)),
    (titles[3], (2063, 1764, 3175, 2526), (e7_sd_carra12, e7_sd_era12, e7_sd_carra15, e7_sd_era15),
     (2063, 2609, 3175, 3128), (e7_nr_carra12, e7_nr_era12, e7_nr_carra15, e7_nr_era15)),
]

FS = 22

fig = plt.figure(figsize=(W / 100, H / 100), dpi=100)
fig.patch.set_facecolor('white')


def fx(px):
    return px / W


def fy(py):
    return 1 - py / H


def draw_axes(box, series, kind):
    l, t, r, b = box
    ax = fig.add_axes([fx(l), fy(b), (r - l) / W, (b - t) / H])
    for k, vals in enumerate(series):
        start = msu_start if k < 2 else amsua_start
        tt = start + step * np.arange(len(vals))
        ax.plot(tt, vals, color=colors[k], lw=widths[k], solid_joinstyle='round')
    ax.set_xlim(1992.0, 2021.9)
    ax.xaxis.set_major_locator(FixedLocator(year_ticks))
    ax.xaxis.set_minor_locator(MultipleLocator(1))
    ax.set_xticklabels([str(y) for y in year_ticks])
    if kind == 'sd':
        ax.set_ylim(0, 0.4)
        ax.yaxis.set_major_locator(FixedLocator(sd_ticks))
        ax.yaxis.set_major_formatter(FixedFormatter(sd_ticklabels))
        ylab = 'K'
    else:
        ax.set_ylim(0, 3200)
        ax.yaxis.set_major_locator(FixedLocator(nr_ticks))
        ylab = 'Nr of obs'
    ax.grid(True, which='major', color='#6e6e6e', linestyle=(0, (2, 1.6)), lw=1.0)
    ax.tick_params(which='both', direction='in', top=True, right=True, labelsize=FS, pad=12)
    ax.tick_params(which='major', length=9, width=1.4)
    ax.tick_params(which='minor', length=5, width=1.1)
    for s in ax.spines.values():
        s.set_linewidth(1.8)
    fig.text(fx(l - 146), fy((t + b) / 2), ylab, rotation=90, ha='center', va='center', fontsize=FS)
    # gnuplot-style key: right aligned text, sample line to its right
    for k, lab in enumerate(labels):
        yk = fy(t + 15 + 32 * k)
        fig.text(fx(r + 380), yk, lab, ha='right', va='center', fontsize=FS)
        fig.add_artist(Line2D([fx(r + 400), fx(r + 483)], [yk, yk], transform=fig.transFigure,
                              color=colors[k], lw=widths[k]))
    return ax


for title, box_sd, sd, box_nr, nr in panels:
    draw_axes(box_sd, sd, 'sd')
    l, t, r, b = box_sd
    fig.text(fx((l + r) / 2), fy(t - 47), title, ha='center', va='center', fontsize=FS)
    draw_axes(box_nr, nr, 'nr')

fig.savefig('out.png', dpi=100, facecolor='white')
